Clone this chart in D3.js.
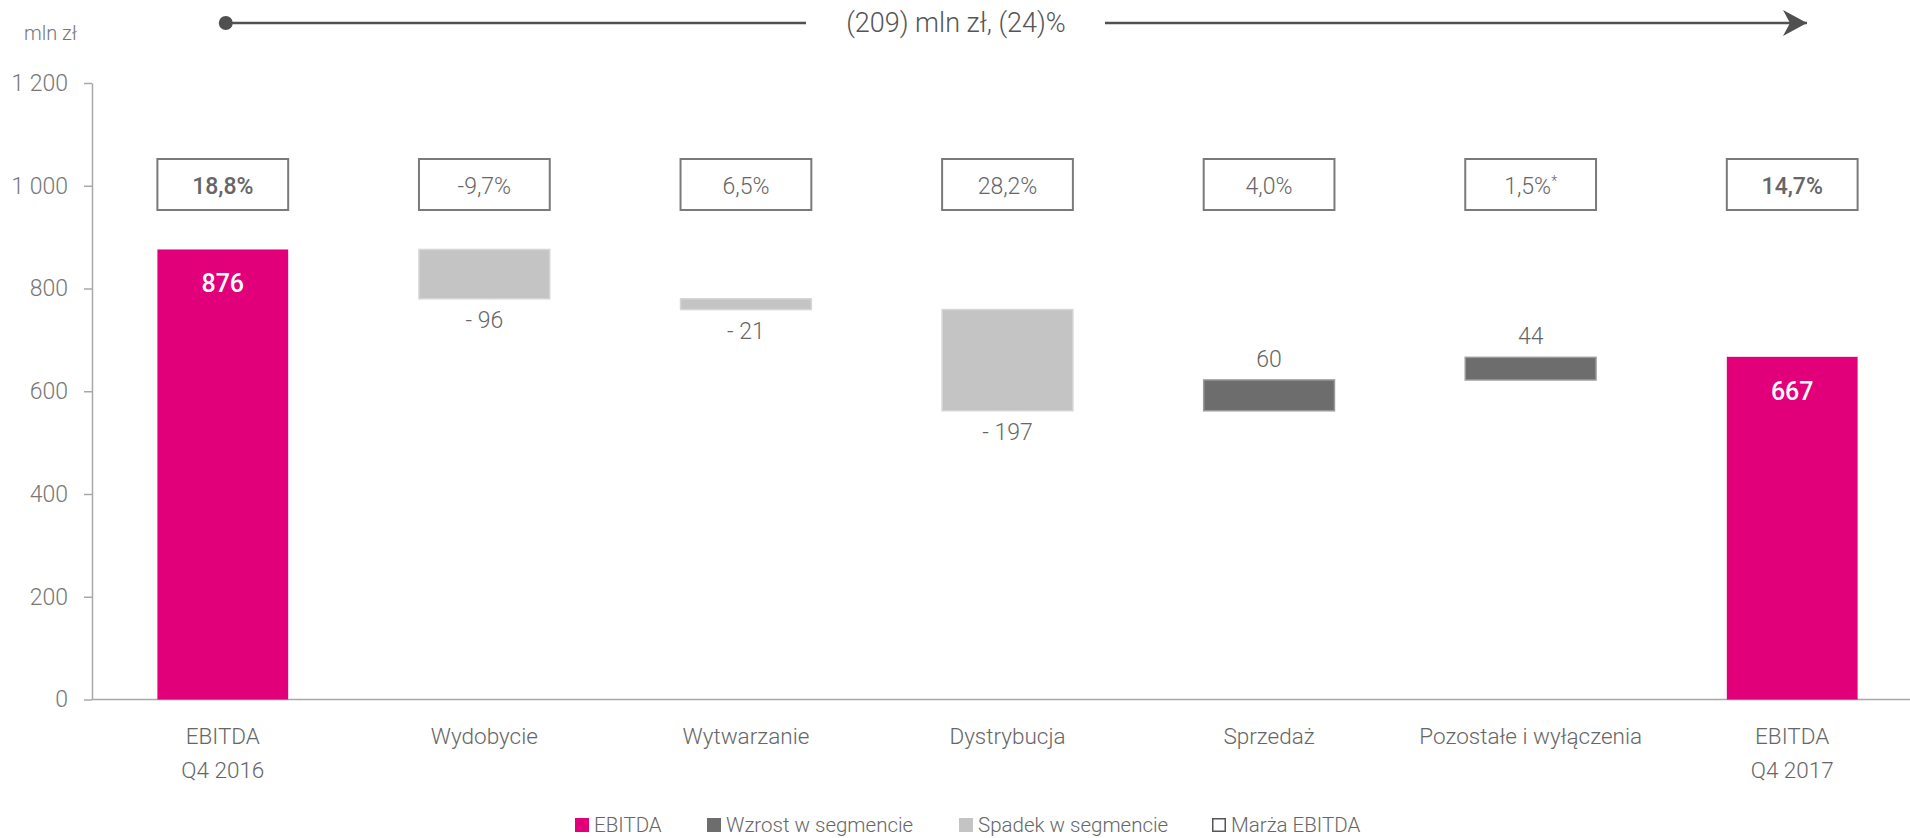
<!DOCTYPE html>
<html lang="pl">
<head>
<meta charset="utf-8">
<script src="https://cdn.jsdelivr.net/npm/d3@7"></script>
<style>
  html, body { margin: 0; padding: 0; background: #fff; }
  svg { display: block; font-family: Roboto, "Open Sans", sans-serif; }
</style>
</head>
<body>
<svg id="chart" width="1910" height="838"></svg>
<script>
// EBITDA bridge Q4 2016 -> Q4 2017 (mln zł)
const categories = [
  ["EBITDA", "Q4 2016"],
  ["Wydobycie"],
  ["Wytwarzanie"],
  ["Dystrybucja"],
  ["Sprzedaż"],
  ["Pozostałe i wyłączenia"],
  ["EBITDA", "Q4 2017"]
];
const values = [876, -96, -21, -197, 60, 44, 667];
const kinds = ["total", "delta", "delta", "delta", "delta", "delta", "total"];
const margins = ["18,8%", "-9,7%", "6,5%", "28,2%", "4,0%", "1,5%", "14,7%"];
const marginNotes = ["", "", "", "", "", "*", ""];
const yTicks = [0, 200, 400, 600, 800, 1000, 1200];
const unitLabel = "mln zł";
const summaryLabel = "(209) mln zł, (24)%";
const legendLabels = ["EBITDA", "Wzrost w segmencie", "Spadek w segmencie", "Marża EBITDA"];

const COLORS = { total: "#e2007a", up: "#6d6d6d", down: "#c4c4c4" };
const TEXT = "#666666";
const FONT = "Roboto, 'Open Sans', sans-serif";

const svg = d3.select("#chart");

const x = d3.scaleBand()
  .domain(d3.range(categories.length))
  .range([92, 1923])
  .paddingInner(0.5)
  .paddingOuter(0.25);

const y = d3.scaleLinear().domain([0, 1200]).range([699.5, 83]);

// waterfall segments
let running = 0;
const segs = values.map((v, i) => {
  let y0, y1, kind;
  if (kinds[i] === "total") { y0 = 0; y1 = v; running = v; kind = "total"; }
  else { y0 = running; y1 = running + v; running = y1; kind = v >= 0 ? "up" : "down"; }
  return { i, v, y0, y1, kind };
});

// y axis
const fmt = d3.formatLocale({ thousands: " ", grouping: [3], decimal: ",", currency: ["", ""] }).format(",d");
const yAxis = svg.append("g")
  .attr("transform", "translate(92,0)")
  .call(d3.axisLeft(y).tickValues(yTicks).tickFormat(fmt).tickSize(8).tickPadding(16).tickSizeOuter(0));
yAxis.attr("font-family", FONT);
yAxis.select(".domain").attr("stroke", "#a8a8a8").attr("stroke-width", 1.5);
yAxis.selectAll(".tick line").attr("stroke", "#a8a8a8").attr("stroke-width", 1.5);
yAxis.selectAll(".tick text").attr("fill", "#777").style("font-size", "23px").style("font-weight", 300)
  .style("font-family", FONT);

// x baseline
svg.append("line")
  .attr("x1", 92).attr("x2", 1910)
  .attr("y1", y(0)).attr("y2", y(0))
  .attr("stroke", "#a8a8a8").attr("stroke-width", 1.5);

// category labels
const xAxis = svg.append("g")
  .attr("transform", `translate(0,${y(0)})`)
  .call(d3.axisBottom(x).tickSize(0).tickFormat(""));
xAxis.attr("font-family", FONT);
xAxis.select(".domain").remove();
xAxis.selectAll(".tick").each(function (d) {
  const t = d3.select(this).append("text")
    .attr("fill", TEXT).attr("text-anchor", "middle")
    .style("font-family", FONT)
    .style("font-size", "22.5px").style("font-weight", 300);
  categories[d].forEach((line, k) => {
    t.append("tspan").attr("x", 0).attr("y", 44 + k * 34).text(line);
  });
});

// bars
svg.append("g").selectAll("rect")
  .data(segs)
  .join("rect")
  .attr("x", d => x(d.i))
  .attr("width", x.bandwidth())
  .attr("y", d => y(Math.max(d.y0, d.y1)))
  .attr("height", d => Math.abs(y(d.y0) - y(d.y1)))
  .attr("fill", d => COLORS[d.kind])
  .attr("stroke", d => d.kind === "up" ? "#9a9a9a" : d.kind === "down" ? "#d6d6d6" : "none")
  .attr("stroke-width", d => d.kind === "total" ? 0 : 1.5);

// value labels
svg.append("g").selectAll("text")
  .data(segs)
  .join("text")
  .attr("x", d => x(d.i) + x.bandwidth() / 2)
  .attr("y", d => {
    if (d.kind === "total") return y(d.y1) + 34;
    if (d.kind === "down") return y(d.y1) + 21;
    return y(d.y1) - 21;
  })
  .attr("dy", "0.35em")
  .attr("text-anchor", "middle")
  .attr("fill", d => d.kind === "total" ? "#fff" : TEXT)
  .style("font-size", d => d.kind === "total" ? "25px" : "23px")
  .style("font-weight", d => d.kind === "total" ? 500 : 300)
  .text(d => d.v < 0 ? "- " + Math.abs(d.v) : d.v);

// margin boxes
const mg = svg.append("g").selectAll("g")
  .data(margins)
  .join("g")
  .attr("transform", (d, i) => `translate(${x(i)},159)`);
mg.append("rect")
  .attr("x", 0).attr("y", 0)
  .attr("width", x.bandwidth()).attr("height", 51)
  .attr("fill", "#fff").attr("stroke", "#7a7a7a").attr("stroke-width", 2);
const mt = mg.append("text")
  .attr("x", x.bandwidth() / 2).attr("y", 27)
  .attr("dy", "0.35em")
  .attr("text-anchor", "middle")
  .attr("fill", TEXT)
  .style("font-size", "23px")
  .style("font-weight", (d, i) => kinds[i] === "total" ? 500 : 300);
mt.append("tspan").text(d => d);
mt.append("tspan")
  .attr("dy", "-0.6em")
  .style("font-size", "14px")
  .text((d, i) => marginNotes[i]);

// unit label
svg.append("text")
  .attr("x", 77).attr("y", 33).attr("dy", "0.35em")
  .attr("text-anchor", "end")
  .attr("fill", "#777")
  .style("font-size", "20px").style("font-weight", 300)
  .text(unitLabel);

// overall change arrow
const arrowY = 23;
const startX = x(0) + x.bandwidth() / 2 + 3;
const endX = 1807;
svg.append("defs").append("marker")
  .attr("id", "arrowHead")
  .attr("viewBox", "0 0 24 26")
  .attr("refX", 24).attr("refY", 13)
  .attr("markerWidth", 24).attr("markerHeight", 26)
  .attr("markerUnits", "userSpaceOnUse")
  .attr("orient", "auto")
  .append("path")
  .attr("d", "M0,0 L24,13 L0,26 L7,13 Z")
  .attr("fill", "#505050");
svg.append("circle")
  .attr("cx", startX).attr("cy", arrowY).attr("r", 7)
  .attr("fill", "#505050");
svg.append("line")
  .attr("x1", startX).attr("x2", 806)
  .attr("y1", arrowY).attr("y2", arrowY)
  .attr("stroke", "#505050").attr("stroke-width", 2.7);
svg.append("line")
  .attr("x1", 1105).attr("x2", endX)
  .attr("y1", arrowY).attr("y2", arrowY)
  .attr("stroke", "#505050").attr("stroke-width", 2.7)
  .attr("marker-end", "url(#arrowHead)");
svg.append("text")
  .attr("x", 956).attr("y", arrowY).attr("dy", "0.35em")
  .attr("text-anchor", "middle")
  .attr("fill", "#555")
  .style("font-size", "27px").style("font-weight", 300)
  .text(summaryLabel);

// legend
const legendX = [575, 707, 959, 1212];
const legendStyle = [
  { fill: COLORS.total, stroke: "none" },
  { fill: COLORS.up, stroke: "none" },
  { fill: COLORS.down, stroke: "none" },
  { fill: "#fff", stroke: "#555" }
];
const lg = svg.append("g").selectAll("g")
  .data(legendLabels)
  .join("g")
  .attr("transform", (d, i) => `translate(${legendX[i]},825)`);
lg.append("rect")
  .attr("x", (d, i) => legendStyle[i].stroke === "none" ? 0 : 0.75)
  .attr("y", (d, i) => legendStyle[i].stroke === "none" ? -7 : -6.25)
  .attr("width", (d, i) => legendStyle[i].stroke === "none" ? 14 : 12.5)
  .attr("height", (d, i) => legendStyle[i].stroke === "none" ? 14 : 12.5)
  .attr("fill", (d, i) => legendStyle[i].fill)
  .attr("stroke", (d, i) => legendStyle[i].stroke)
  .attr("stroke-width", 1.5);
lg.append("text")
  .attr("x", 19).attr("y", 0).attr("dy", "0.35em")
  .attr("fill", TEXT)
  .style("font-size", "20.5px").style("font-weight", 300)
  .text(d => d);
</script>
</body>
</html>
